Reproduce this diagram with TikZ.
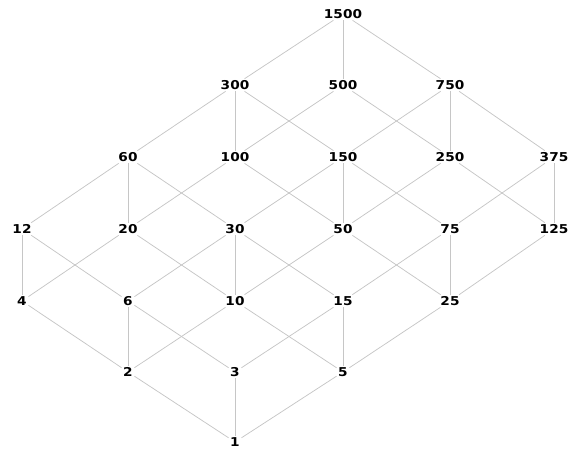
\documentclass[tikz,border=0pt]{standalone}
\usepackage{fontspec}
\setsansfont{DejaVu Sans}[BoldFeatures={FakeStretch=1.12}]
\begin{document}
\begin{tikzpicture}[
        x=1pt, y=1pt,
        num/.style={inner sep=1.5pt, font=\sffamily\bfseries\fontsize{12.2}{14}\selectfont},
        edge/.style={draw=gray!45, line width=0.75pt}
    ]
    \useasboundingbox (0,0) rectangle (571,450);

    % Nível 0 e 1
    \node[num] (n1) at (235,8) {1};
    \node[num] (n2) at (128,78) {2};
    \node[num] (n3) at (235,78) {3};
    \node[num] (n5) at (343,78) {5};

    % Nível 2
    \node[num] (n4) at (22,149) {4};
    \node[num] (n6) at (128,149) {6};
    \node[num] (n10) at (235,149) {10};
    \node[num] (n15) at (343,149) {15};
    \node[num] (n25) at (450,149) {25};

    % Nível 3
    \node[num] (n12) at (22,221) {12};
    \node[num] (n20) at (128,221) {20};
    \node[num] (n30) at (235,221) {30};
    \node[num] (n50) at (343,221) {50};
    \node[num] (n75) at (450,221) {75};
    \node[num] (n125) at (554,221) {125};

    % Nível 4
    \node[num] (n60) at (128,293) {60};
    \node[num] (n100) at (235,293) {100};
    \node[num] (n150) at (343,293) {150};
    \node[num] (n250) at (450,293) {250};
    \node[num] (n375) at (554,293) {375};

    % Nível 5 e 6
    \node[num] (n300) at (235,365) {300};
    \node[num] (n500) at (343,365) {500};
    \node[num] (n750) at (450,365) {750};
    \node[num] (n1500) at (343,436) {1500};

    % Arestas: vezes 2
    \draw[edge] (n1) -- (n2);
    \draw[edge] (n2) -- (n4);
    \draw[edge] (n3) -- (n6);
    \draw[edge] (n6) -- (n12);
    \draw[edge] (n5) -- (n10);
    \draw[edge] (n10) -- (n20);
    \draw[edge] (n15) -- (n30);
    \draw[edge] (n30) -- (n60);
    \draw[edge] (n25) -- (n50);
    \draw[edge] (n50) -- (n100);
    \draw[edge] (n75) -- (n150);
    \draw[edge] (n150) -- (n300);
    \draw[edge] (n125) -- (n250);
    \draw[edge] (n250) -- (n500);
    \draw[edge] (n375) -- (n750);
    \draw[edge] (n750) -- (n1500);

    % Arestas: vezes 3
    \draw[edge] (n1) -- (n3);
    \draw[edge] (n2) -- (n6);
    \draw[edge] (n4) -- (n12);
    \draw[edge] (n5) -- (n15);
    \draw[edge] (n10) -- (n30);
    \draw[edge] (n20) -- (n60);
    \draw[edge] (n25) -- (n75);
    \draw[edge] (n50) -- (n150);
    \draw[edge] (n100) -- (n300);
    \draw[edge] (n125) -- (n375);
    \draw[edge] (n250) -- (n750);
    \draw[edge] (n500) -- (n1500);

    % Arestas: vezes 5
    \draw[edge] (n1) -- (n5);
    \draw[edge] (n5) -- (n25);
    \draw[edge] (n25) -- (n125);
    \draw[edge] (n2) -- (n10);
    \draw[edge] (n10) -- (n50);
    \draw[edge] (n50) -- (n250);
    \draw[edge] (n4) -- (n20);
    \draw[edge] (n20) -- (n100);
    \draw[edge] (n100) -- (n500);
    \draw[edge] (n3) -- (n15);
    \draw[edge] (n15) -- (n75);
    \draw[edge] (n75) -- (n375);
    \draw[edge] (n6) -- (n30);
    \draw[edge] (n30) -- (n150);
    \draw[edge] (n150) -- (n750);
    \draw[edge] (n12) -- (n60);
    \draw[edge] (n60) -- (n300);
    \draw[edge] (n300) -- (n1500);

    \end{tikzpicture}
\end{document}
